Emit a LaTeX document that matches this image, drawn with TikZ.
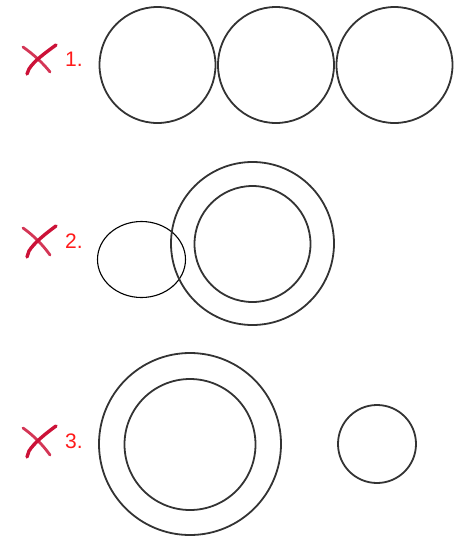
\documentclass[tikz,border=0pt]{standalone}
\usepackage{fontspec}
\newfontfamily\lblfont{Liberation Sans}
\usetikzlibrary{calc}
\definecolor{cRing}{HTML}{333333}
\definecolor{cMark}{HTML}{CC1238}
\definecolor{cNum}{HTML}{FF1A1A}

\begin{document}
\begin{tikzpicture}[
    x=1pt, y=-1pt,
    ring/.style={draw=cRing, line width=1.8pt},
    thinring/.style={draw=black, line width=1.1pt},
    crossmk/.style={draw=cMark, line width=3.4pt, line cap=round},
    crossthin/.style={draw=cMark!85, line width=2.8pt, line cap=round},
    numlbl/.style={font=\lblfont\fontsize{21}{21}\selectfont, text=cNum,
                   anchor=west, inner sep=0pt},
]
\useasboundingbox (0,0) rectangle (454,536);

% ===================== Fila 1: tres circulos tangentes =====================
\draw[crossthin] (23,47) .. controls (33,54) and (43,63) .. (50,72);
\draw[crossmk] (56,45) .. controls (45,53) and (34,61) .. (29,69) -- (27,74);
\node[numlbl] (num1) at (65,59) {1.};

\draw[ring] (157.5,65) circle[radius=58pt];
\draw[ring] (276,65) circle[radius=58pt];
\draw[ring] (394.5,65) circle[radius=58pt];

% ===================== Fila 2: elipse y anillo =====================
\draw[crossthin] (23,228) .. controls (33,235) and (43,245) .. (50,255);
\draw[crossmk] (56,226) .. controls (45,234) and (34,243) .. (29,251) -- (27,257);
\node[numlbl] (num2) at (65,241) {2.};

\draw[thinring] (141.5,259.5) ellipse[x radius=44pt, y radius=38pt];
\draw[ring] (252.5,243.5) circle[radius=81.5pt];
\draw[ring] (252.5,244) circle[radius=58pt];

% ===================== Fila 3: anillo grande y circulo pequeno =====================
\draw[crossthin] (23,428) .. controls (33,435) and (43,445) .. (50,455);
\draw[crossmk] (56,426) .. controls (45,434) and (34,443) .. (29,451) -- (27,457);
\node[numlbl] (num3) at (65,441.5) {3.};

\draw[ring] (190,444) circle[radius=91pt];
\draw[ring] (190,444.5) circle[radius=65.5pt];
\draw[ring] (377,444) circle[radius=39pt];

\end{tikzpicture}
\end{document}
